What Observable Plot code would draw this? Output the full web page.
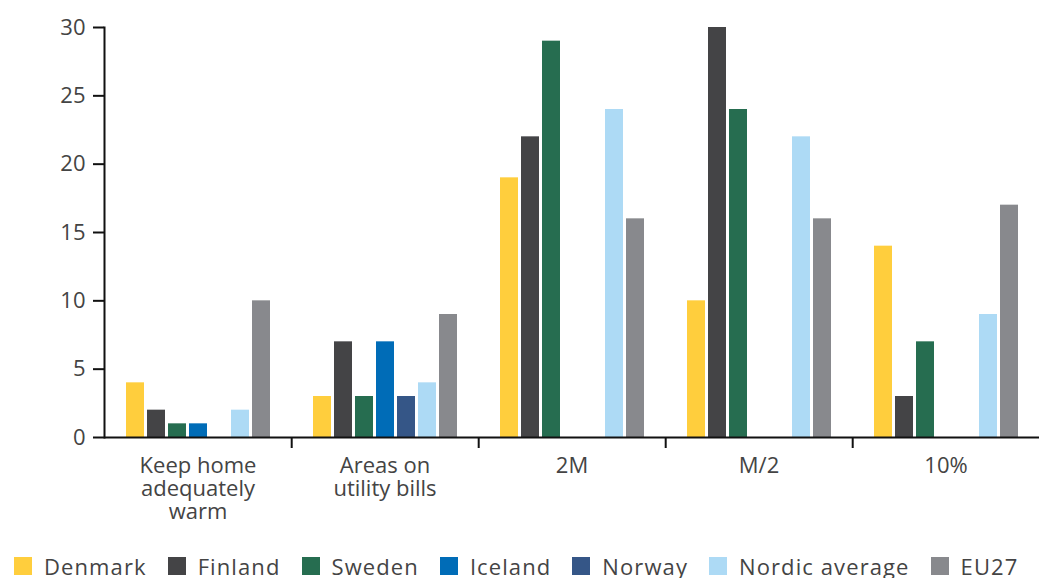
<!DOCTYPE html>
<html>
<head>
<meta charset="utf-8">
<script src="https://cdn.jsdelivr.net/npm/d3@7"></script>
<script src="https://cdn.jsdelivr.net/npm/@observablehq/plot@0.6"></script>
<style>
  body { margin: 0; background: #fff; font-family: "Open Sans", "Noto Sans", sans-serif; }
  #legend { display: flex; align-items: center; margin: 6px 0 0 14px; font-size: 22px; letter-spacing: 1.1px; color: #444; white-space: nowrap; }
  .item { display: flex; align-items: center; margin-right: 21px; }
  .sw { width: 18px; height: 18px; margin-right: 12px; }
</style>
</head>
<body>
<div id="chart"></div>
<div id="legend"></div>
<script>
const categories = ["Keep home adequately warm", "Areas on utility bills", "2M", "M/2", "10%"];
const categoryLabels = ["Keep home\nadequately\nwarm", "Areas on\nutility bills", "2M", "M/2", "10%"];
const series = ["Denmark", "Finland", "Sweden", "Iceland", "Norway", "Nordic average", "EU27"];
const colors = ["#FFCE3D", "#444446", "#266D50", "#006CB7", "#355687", "#ADDAF5", "#88898D"];
const denmark = [4, 3, 19, 10, 14];
const finland = [2, 7, 22, 30, 3];
const sweden = [1, 3, 29, 24, 7];
const iceland = [1, 7, null, null, null];
const norway = [null, 3, null, null, null];
const nordicAverage = [2, 4, 24, 22, 9];
const eu27 = [10, 9, 16, 16, 17];
const yTicks = [0, 5, 10, 15, 20, 25, 30];

const seriesValues = [denmark, finland, sweden, iceland, norway, nordicAverage, eu27];
const rows = [];
series.forEach((s, i) => {
  categories.forEach((c, j) => {
    const v = seriesValues[i][j];
    if (v != null) rows.push({category: c, series: s, value: v});
  });
});

const W = 1047, H = 545, ML = 103, MR = 7, MT = 27, MB = 108;
const facetW = (W - ML - MR) / categories.length;
const font = "'Open Sans', 'Noto Sans', sans-serif";

const chart = Plot.plot({
  width: W, height: H,
  marginLeft: ML, marginRight: MR, marginTop: MT, marginBottom: MB,
  style: {fontFamily: font, fontSize: "22px", color: "#111", background: "#fff"},
  fx: {domain: categories, padding: 0, axis: null},
  x: {domain: series, paddingInner: 0.163, paddingOuter: 0.945, axis: null},
  y: {domain: [0, 30], axis: null},
  color: {domain: series, range: colors},
  marks: [
    Plot.barY(rows, {fx: "category", x: "series", y: "value", fill: "series"}),
    Plot.frame({anchor: "left", facetAnchor: "left", stroke: "#111", strokeWidth: 2}),
    Plot.axisY({ticks: yTicks, tickSize: 11, tickPadding: 8, stroke: "#111", strokeWidth: 2, fill: "#444", fontSize: 22, label: null}),
    Plot.ruleY([0], {stroke: "#111", strokeWidth: 2}),
    Plot.axisFx({anchor: "bottom", ticks: categories.slice(0, -1), tickSize: 11, dx: facetW / 2, stroke: "#111", strokeWidth: 2, tickFormat: () => "", label: null}),
    Plot.axisFx({anchor: "bottom", ticks: categories, tickSize: 0, tickPadding: 19, fill: "#444", fontSize: 22, lineHeight: 1.05, label: null,
      style: "letter-spacing: 1px",
      tickFormat: d => categoryLabels[categories.indexOf(d)]})
  ]
});
document.getElementById("chart").appendChild(chart);

const legend = document.getElementById("legend");
series.forEach((s, i) => {
  const item = document.createElement("div");
  item.className = "item";
  const sw = document.createElement("span");
  sw.className = "sw";
  sw.style.background = colors[i];
  const t = document.createElement("span");
  t.textContent = s;
  item.appendChild(sw);
  item.appendChild(t);
  legend.appendChild(item);
});
</script>
</body>
</html>
